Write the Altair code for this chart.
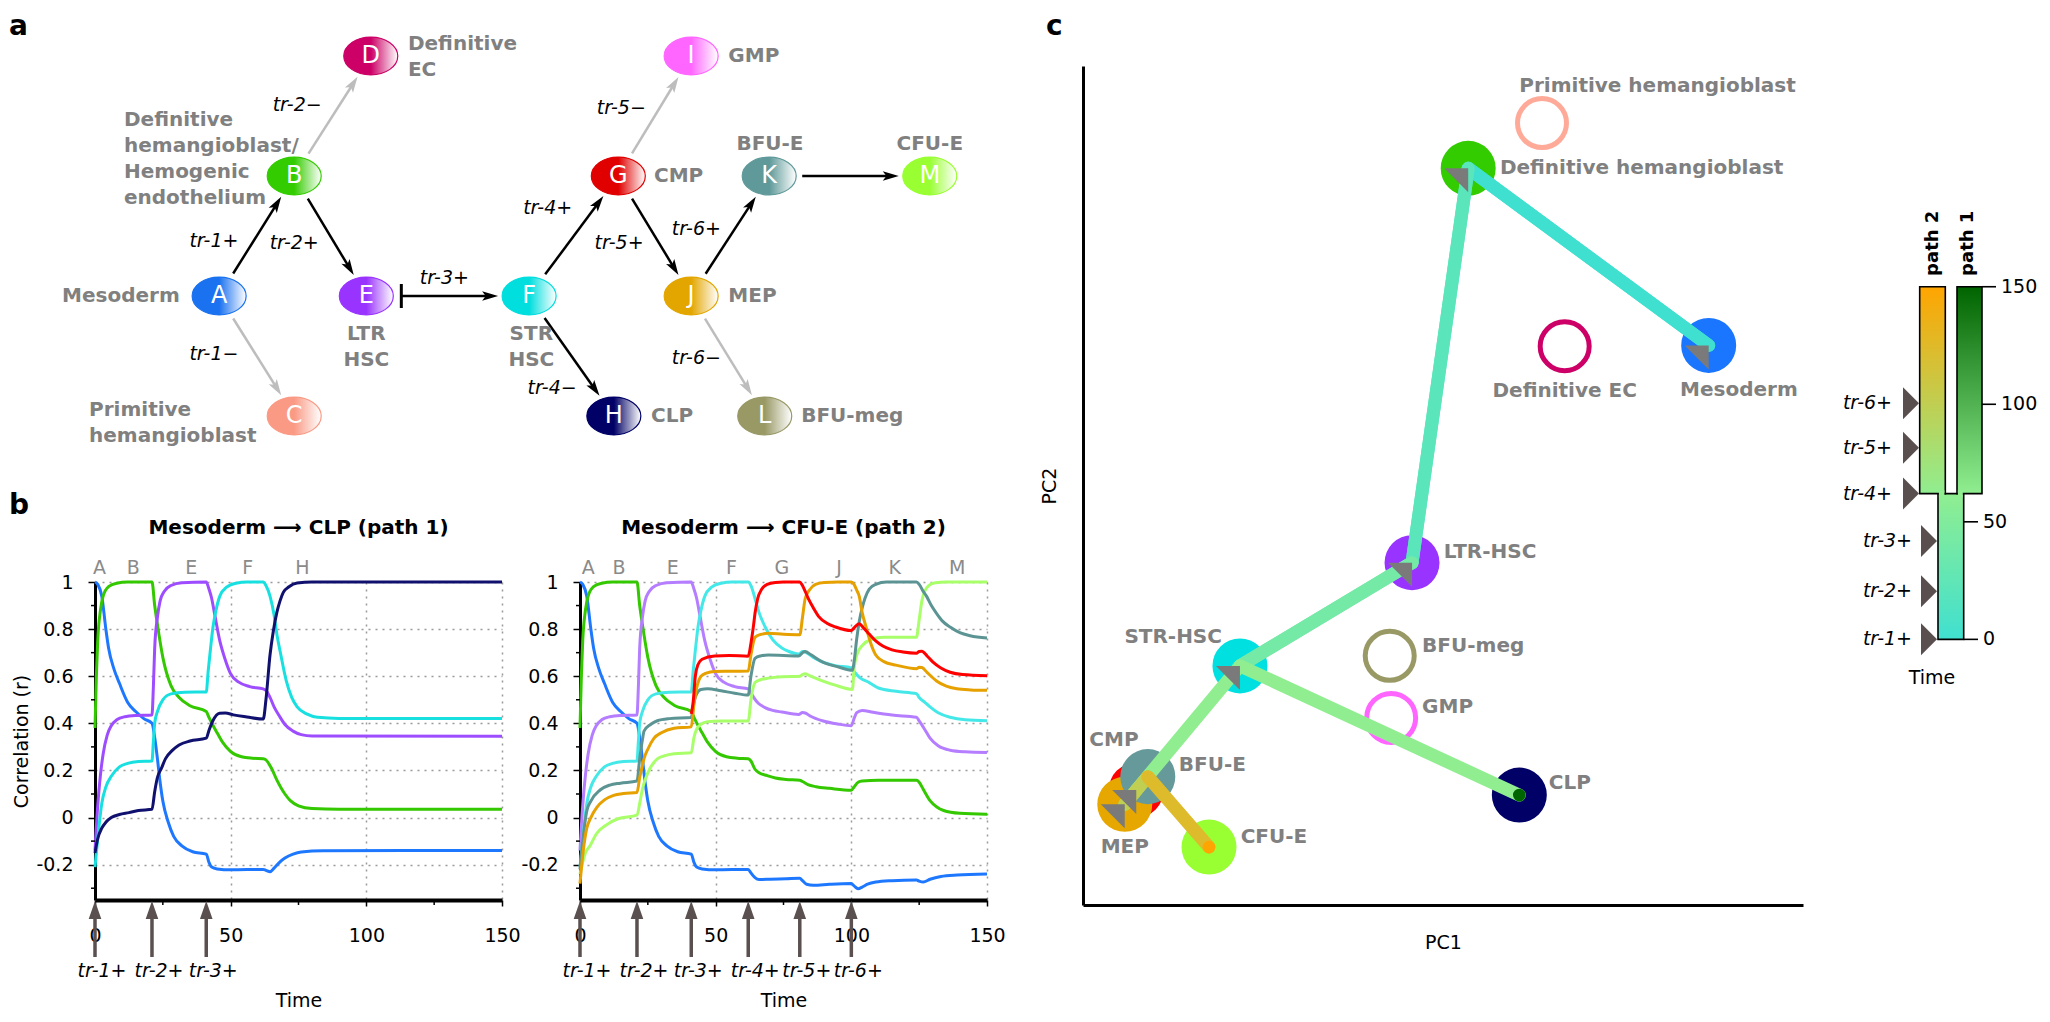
import math
import pandas as pd
import altair as alt

FONT = "DejaVu Sans"
GRAY = "#808080"

# ======================= DATA =======================
# ---------- panel a : lineage network (layout units: column / row) ----------
a_nodes = ["A", "B", "C", "D", "E", "F", "G", "H", "I", "J", "K", "L", "M"]
a_node_col = [1.67, 2.68, 2.68, 3.71, 3.65, 5.84, 7.04, 6.98, 8.02, 8.02, 9.07, 9.01, 11.23]
a_node_row = [2.0, 1.0, 3.0, 0.0, 2.0, 2.0, 1.0, 3.0, 0.0, 2.0, 1.0, 3.0, 1.0]

a_edge_from = ["A", "B", "F", "G", "J", "K", "F", "A", "B", "G", "J"]
a_edge_to = ["B", "E", "G", "J", "K", "M", "H", "C", "D", "I", "L"]
a_edge_kind = ["on", "on", "on", "on", "on", "on", "on", "off", "off", "off", "off"]
a_block_from, a_block_to = "E", "F"

a_label_text = ["Mesoderm", "Definitive\nhemangioblast/\nHemogenic\nendothelium",
                "Definitive\nEC", "Primitive\nhemangioblast", "LTR\nHSC", "STR\nHSC",
                "CMP", "GMP", "MEP", "BFU-E", "CFU-E", "CLP", "BFU-meg"]
a_label_col = [1.14, 0.39, 4.21, -0.08, 3.65, 5.87, 7.52, 8.52, 8.52, 9.08, 11.23, 7.48, 9.50]
a_label_row = [2.0, 0.45, -0.18, 2.87, 2.23, 2.23, 1.0, 0.0, 2.0, 0.73, 0.73, 3.0, 3.0]

a_tr_text = ["tr-1+", "tr-2+", "tr-2\u2212", "tr-1\u2212", "tr-3+", "tr-4+",
             "tr-5\u2212", "tr-5+", "tr-6+", "tr-6\u2212", "tr-4\u2212"]
a_tr_col = [1.60, 2.68, 2.72, 1.60, 4.70, 6.09, 7.08, 7.05, 8.09, 8.09, 6.15]
a_tr_row = [1.54, 1.56, 0.41, 2.48, 1.85, 1.27, 0.43, 1.56, 1.44, 2.52, 2.77]

# ---------- panel b : correlation vs time ----------
b_xticks = [0, 50, 100, 150]
b_xminor = [25, 75, 125]
b_yticks = [-0.2, 0.0, 0.2, 0.4, 0.6, 0.8, 1.0]
b_yminor = [-0.3, -0.1, 0.1, 0.3, 0.5, 0.7, 0.9]

p1_A_early = [(0, 1.0), (1, 0.99), (2.5, 0.94), (4, 0.8), (5, 0.72), (7, 0.63), (9, 0.57), (12, 0.49),
              (15, 0.45), (18, 0.42), (21, 0.4), (22, 0.34), (23, 0.25), (24, 0.15), (25, 0.07),
              (27, -0.02), (29, -0.08), (32, -0.12), (36, -0.145), (41, -0.155), (42, -0.19),
              (43, -0.21), (45, -0.218), (50, -0.222), (62, -0.22)]
p1_A_late = [(63, -0.224), (64.5, -0.23), (66, -0.215), (68, -0.19), (70, -0.172), (73, -0.155),
             (76, -0.146), (84, -0.141), (150, -0.14)]
p1_B_early = [(0, 0.38), (0.5, 0.6), (1, 0.75), (2, 0.88), (3, 0.94), (5, 0.98), (8, 0.995), (12, 1.0),
              (21, 1.0), (22, 0.9), (23, 0.82), (25, 0.68), (28, 0.56), (31, 0.51), (35, 0.475),
              (41, 0.45), (42, 0.425), (44, 0.38), (45, 0.36), (47, 0.32), (50, 0.28), (54, 0.258),
              (58, 0.252), (62, 0.25)]
p1_B_late = [(63, 0.245), (65, 0.21), (67, 0.16), (70, 0.1), (72, 0.072), (75, 0.05), (80, 0.038),
             (90, 0.035), (150, 0.035)]
p1_E_early = [(0, -0.14), (1, 0.05), (2, 0.18), (3, 0.27), (4.5, 0.35), (6, 0.39), (8, 0.415),
              (11, 0.428), (15, 0.433), (21, 0.435), (21.5, 0.55), (22, 0.72), (23, 0.85), (24, 0.92),
              (25.5, 0.96), (28, 0.985), (32, 0.997), (41, 1.0), (42, 0.97), (43, 0.93), (44, 0.87),
              (46, 0.75), (48, 0.67), (50, 0.61), (53, 0.575), (57, 0.556), (62, 0.546)]
p1_E_late = [(63, 0.54), (64.5, 0.51), (66, 0.47), (68, 0.43), (70, 0.395), (73, 0.367), (76, 0.352),
             (80, 0.346), (150, 0.345)]
p1_F_early = [(0, -0.21), (1, -0.09), (2.5, 0.06), (4, 0.13), (6, 0.175), (9, 0.215), (12, 0.23),
              (16, 0.238), (21, 0.24), (21.5, 0.32), (22, 0.4), (23, 0.45), (25, 0.5), (28, 0.525),
              (33, 0.532), (41, 0.533), (41.7, 0.62), (42.6, 0.72), (43.5, 0.81), (44.6, 0.88),
              (46, 0.94), (48.5, 0.978), (52, 0.995), (56, 1.0), (62, 1.0)]
p1_F_late = [(63, 0.985), (64.5, 0.94), (66, 0.86), (67, 0.78), (68.5, 0.69), (70.5, 0.58),
             (72.5, 0.51), (74.5, 0.47), (78, 0.44), (82, 0.426), (90, 0.421), (150, 0.42)]
p1_H = [(0, -0.15), (1, -0.09), (2.5, -0.045), (4, -0.02), (6, 0.0), (9, 0.013), (12.5, 0.021),
        (16, 0.03), (21, 0.035), (22, 0.11), (23, 0.17), (24.5, 0.21), (26, 0.25), (28.5, 0.285),
        (31, 0.308), (35, 0.325), (41, 0.337), (42, 0.37), (43.4, 0.41), (45.9, 0.443), (48, 0.444),
        (51, 0.436), (56, 0.427), (62, 0.418), (63, 0.5), (64.5, 0.69), (65.7, 0.79), (67, 0.87),
        (68.2, 0.92), (69.4, 0.956), (71.5, 0.98), (74.5, 0.996), (80, 1.0), (150, 1.0)]

p2_A_late = [(63, -0.235), (64.5, -0.255), (66, -0.263), (70, -0.262), (76, -0.26), (81, -0.258),
             (82, -0.268), (83.5, -0.283), (86, -0.287), (92, -0.283), (100, -0.28), (101, -0.29),
             (102.5, -0.302), (104, -0.295), (106, -0.283), (109, -0.274), (115, -0.268),
             (124, -0.265), (125, -0.27), (126.5, -0.274), (129, -0.262), (133, -0.25),
             (139, -0.244), (150, -0.24)]
p2_B_late = [(63, 0.24), (64.5, 0.205), (66, 0.19), (69, 0.178), (72, 0.168), (76, 0.162), (81, 0.158),
             (82, 0.153), (84, 0.14), (87, 0.131), (92, 0.124), (100, 0.116), (101, 0.13),
             (102.5, 0.15), (104, 0.155), (110, 0.158), (124, 0.158), (125, 0.15), (126.5, 0.12),
             (129, 0.072), (131.5, 0.045), (134, 0.03), (140, 0.018), (150, 0.014)]
p2_E_late = [(63, 0.53), (64, 0.51), (65.7, 0.485), (68, 0.468), (71, 0.455), (74.4, 0.448),
             (80.6, 0.438), (82, 0.446), (83, 0.444), (85, 0.43), (89.3, 0.411), (95, 0.397),
             (100, 0.39), (101, 0.42), (102, 0.445), (104, 0.455), (108, 0.447), (115, 0.435),
             (124, 0.426), (125, 0.41), (127, 0.375), (129, 0.337), (132, 0.305), (136.4, 0.286),
             (142, 0.279), (150, 0.276)]
p2_F_late = [(63, 0.985), (64.5, 0.93), (66, 0.87), (68.2, 0.81), (71, 0.755), (74.4, 0.72),
             (77, 0.705), (80.6, 0.694), (82, 0.705), (83, 0.703), (86, 0.68), (89.3, 0.661),
             (94, 0.645), (100, 0.635), (101, 0.62), (103, 0.595), (106.6, 0.573), (110, 0.55),
             (116.5, 0.536), (124, 0.526), (125, 0.51), (127, 0.49), (129, 0.47), (132, 0.445),
             (136.4, 0.426), (142, 0.415), (150, 0.411)]
p2_G = [(41, 0.44), (41.7, 0.49), (42.5, 0.6), (43.5, 0.65), (45, 0.672), (49.6, 0.686), (55, 0.688),
        (62, 0.685), (63, 0.74), (64, 0.82), (64.5, 0.867), (65.5, 0.93), (67, 0.97), (69, 0.99),
        (72, 0.998), (75, 1.0), (81, 1.0), (82, 0.985), (83, 0.96), (84.3, 0.926), (86, 0.89),
        (88, 0.853), (91, 0.825), (94.2, 0.809), (100, 0.794), (101, 0.805), (102.9, 0.823),
        (104.5, 0.805), (106.6, 0.779), (109, 0.75), (111.6, 0.728), (115, 0.712), (119, 0.703),
        (124, 0.698), (125, 0.705), (126, 0.706), (128, 0.685), (130, 0.661), (133, 0.635),
        (136.4, 0.617), (141, 0.607), (150, 0.602)]
p2_J = [(0, -0.28), (1, -0.16), (2.5, -0.045), (4, 0.0), (6.2, 0.043), (9, 0.075), (12.4, 0.094),
        (16, 0.102), (21, 0.106), (22, 0.17), (23, 0.22), (23.6, 0.25), (25, 0.29), (27.3, 0.337),
        (30, 0.36), (34.7, 0.379), (41, 0.385), (42, 0.48), (43, 0.55), (44.6, 0.6), (46.5, 0.613),
        (49.6, 0.62), (55, 0.621), (62, 0.622), (63, 0.69), (64.5, 0.765), (66.5, 0.777),
        (69.4, 0.782), (75, 0.778), (81, 0.776), (82, 0.85), (83, 0.93), (84.5, 0.965),
        (86.8, 0.99), (90, 0.998), (95, 1.0), (100, 1.0), (101, 0.99), (102, 0.965), (102.9, 0.94),
        (104, 0.87), (105.4, 0.81), (107, 0.745), (109, 0.69), (112, 0.662), (116.5, 0.647),
        (124, 0.632), (125, 0.638), (126, 0.637), (128, 0.615), (131.4, 0.58), (135, 0.558),
        (138.9, 0.547), (144, 0.542), (150, 0.54)]
p2_K = [(0, -0.22), (1, -0.1), (2.5, 0.028), (4, 0.07), (7.4, 0.117), (11, 0.138), (14.9, 0.146),
        (21, 0.155), (22, 0.25), (23, 0.33), (23.6, 0.367), (26, 0.395), (28.5, 0.411), (33, 0.42),
        (41, 0.425), (42, 0.49), (43, 0.525), (44.6, 0.544), (47, 0.547), (52, 0.538), (57, 0.528),
        (62, 0.52), (63, 0.6), (64.5, 0.676), (66.5, 0.686), (69.4, 0.69), (75, 0.688),
        (80.6, 0.686), (82, 0.7), (83, 0.705), (85, 0.692), (89.3, 0.661), (95, 0.64),
        (100.4, 0.625), (101, 0.66), (102, 0.76), (103, 0.838), (104, 0.89), (105, 0.93),
        (106.6, 0.97), (109, 0.99), (113, 1.0), (124, 1.0), (125, 0.99), (126.5, 0.96),
        (127.7, 0.94), (129.5, 0.9), (131.4, 0.867), (133.5, 0.835), (136.4, 0.809), (140, 0.785),
        (143.8, 0.772), (150, 0.762)]
p2_M = [(0, -0.24), (1, -0.19), (2, -0.15), (3.7, -0.12), (6, -0.07), (9.9, -0.03), (14, -0.005),
        (21, 0.01), (22, 0.06), (23, 0.12), (23.6, 0.146), (25, 0.19), (28.5, 0.249), (31, 0.262),
        (34.7, 0.271), (41, 0.275), (42, 0.34), (43, 0.375), (44.6, 0.396), (47, 0.407), (52, 0.41),
        (62, 0.41), (63, 0.5), (64.5, 0.573), (66.5, 0.585), (69.4, 0.592), (75, 0.598), (81, 0.6),
        (82, 0.607), (83, 0.61), (85, 0.6), (89.3, 0.58), (94, 0.562), (100.4, 0.544), (101, 0.63),
        (102, 0.69), (104, 0.73), (107, 0.755), (112, 0.765), (124, 0.765), (125, 0.84),
        (126, 0.92), (127, 0.96), (128.5, 0.985), (131, 0.997), (135, 1.0), (150, 1.0)]

b1_letters = ["A", "B", "E", "F", "H"]
b1_letter_t = [1.7, 14.1, 35.5, 56.3, 76.4]
b2_letters = ["A", "B", "E", "F", "G", "J", "K", "M"]
b2_letter_t = [3.0, 14.4, 34.2, 55.8, 74.4, 95.5, 116.0, 139.0]
b1_tr_t = [0, 21, 41]
b1_tr_lbl = ["tr-1+", "tr-2+", "tr-3+"]
b2_tr_t = [0, 21, 41, 62, 81, 100]
b2_tr_lbl = ["tr-1+", "tr-2+", "tr-3+", "tr-4+", "tr-5+", "tr-6+"]

# ---------- panel c : PCA trajectory ----------
c_node_name = ["Mesoderm", "Definitive hemangioblast", "LTR-HSC", "STR-HSC", "CLP",
               "CMP", "MEP", "BFU-E", "CFU-E"]
c_node_pc1 = [86.9, 53.5, 45.7, 21.8, 60.6, 7.4, 5.8, 9.0, 17.5]
c_node_pc2 = [66.7, 87.8, 40.8, 28.5, 13.1, 13.7, 12.0, 15.3, 6.9]
c_ring_name = ["Primitive hemangioblast", "Definitive EC", "BFU-meg", "GMP"]
c_ring_pc1 = [63.75, 66.9, 42.6, 42.8]
c_ring_pc2 = [93.2, 66.6, 29.7, 22.3]

c_label_text = ["Primitive hemangioblast", "Definitive hemangioblast", "Mesoderm", "Definitive EC",
                "LTR-HSC", "STR-HSC", "BFU-meg", "GMP", "CLP", "CMP", "BFU-E", "MEP", "CFU-E"]
c_label_pc1 = [60.6, 57.9, 91.1, 66.9, 50.1, 19.3, 47.1, 47.1, 64.7, 4.3, 13.3, 5.8, 21.9]
c_label_pc2 = [97.6, 87.8, 61.4, 61.3, 42.1, 31.9, 30.9, 23.6, 14.5, 19.7, 16.7, 6.9, 8.1]

path1_nodes = ["Mesoderm", "Definitive hemangioblast", "LTR-HSC", "STR-HSC", "CLP"]
path1_time = [0, 21, 41, 62, 150]
path2_nodes = ["Mesoderm", "Definitive hemangioblast", "LTR-HSC", "STR-HSC", "CMP", "MEP",
               "BFU-E", "CFU-E"]
path2_time = [0, 21, 41, 62, 81, 100, 124, 150]
tr_nodes = ["Mesoderm", "Definitive hemangioblast", "LTR-HSC", "STR-HSC", "CMP", "MEP"]

# ---------- colour bar (time legend) ----------
leg_tr_label = ["tr-1+", "tr-2+", "tr-3+", "tr-4+", "tr-5+", "tr-6+"]
leg_tr_time = [0, 20.5, 41.8, 62, 81.5, 100.4]
leg_tick_time = [0, 50, 100, 150]
leg_tick_label = ["0", "50", "100", "150"]

# ======================= STYLE =======================
a_node_color = ["#1a72f0", "#33cc00", "#fa9a85", "#cc0066", "#9933ff", "#00dede", "#e00000",
                "#000066", "#ff66ff", "#e3a600", "#5f9999", "#999966", "#99ff33"]
a_label_align = ["right", "left", "left", "left", "center", "center", "left", "left", "left",
                 "center", "center", "left", "left"]
a_label_base = ["middle", "top", "top", "top", "top", "top", "middle", "middle", "middle",
                "middle", "middle", "middle", "middle"]
EDGE_COLOR = {"on": "#000000", "off": "#bdbdbd"}

b1_colors = {"A": "#1e78ff", "B": "#33c800", "E": "#9d4dff", "F": "#18e0e0", "H": "#10106e"}
b2_colors = {"A": "#1e78ff", "B": "#33c800", "E": "#b57dff", "F": "#45e8e8", "M": "#a8ff6a",
             "K": "#5c9494", "J": "#e6a000", "G": "#ff0000"}
ARROW_GRAY = "#5a5050"

c_node_color = ["#1a75ff", "#33cc00", "#9933ff", "#00e0e0", "#000066", "#ff0000", "#e6a800",
                "#669999", "#99ff33"]
c_ring_color = ["#ffaa99", "#cc0066", "#999966", "#ff66ff"]
c_label_align = ["left", "left", "center", "center", "left", "right", "left", "left", "left",
                 "center", "left", "center", "left"]
P1_RANGE = ["#40e0d0", "#90ee90", "#006400"]
P2_RANGE = ["#40e0d0", "#90ee90", "#ffa500"]

ELLIPSE = "M-1,0A1,0.7,0,1,1,1,0A1,0.7,0,1,1,-1,0Z"
HEAD = "M0,0L0.6,2L0,1.55L-0.6,2Z"
HEAD_UP = "M0,0L0.7,2L-0.7,2Z"
TRI_C = "M0,0L-2,0L0,2Z"
TRI_R = "M0,0L-1,-1L-1,1Z"


def anchor(px, py):
    # invisible 1-px marker used to pin the layout extents
    return alt.Chart(pd.DataFrame({"k": [0]})).mark_point(size=1, opacity=0).encode(
        x=alt.value(px), y=alt.value(py))


# ======================= PANEL A =======================
A_W, A_H = 892, 390
A_XDOM = [0, 12]
A_YDOM = [0.0833, 3.3333]
KX = A_W / (A_XDOM[1] - A_XDOM[0])
KY = A_H / (A_YDOM[1] - A_YDOM[0])
RX, RY = 27, 19


def AX(f):
    return alt.X(f, type="quantitative", axis=None,
                 scale=alt.Scale(domain=A_XDOM, nice=False, zero=False))


def AY(f):
    return alt.Y(f, type="quantitative", axis=None,
                 scale=alt.Scale(domain=A_YDOM, nice=False, zero=False, reverse=True))


pos = {n: (c, r) for n, c, r in zip(a_nodes, a_node_col, a_node_row)}
edge_rows = []
for s, d, k in zip(a_edge_from, a_edge_to, a_edge_kind):
    (c0, r0), (c1, r1) = pos[s], pos[d]
    dx, dy = (c1 - c0) * KX, (r1 - r0) * KY
    L = math.hypot(dx, dy)
    ux, uy = dx / L, dy / L
    rad = RX * RY / math.sqrt((RY * ux) ** 2 + (RX * uy) ** 2)
    tipx, tipy = c1 - ux * (rad + 4) / KX, r1 - uy * (rad + 4) / KY
    edge_rows.append(dict(
        x=c0 + ux * (rad + 6) / KX, y=r0 + uy * (rad + 6) / KY,
        x2=tipx - ux * 8 / KX, y2=tipy - uy * 8 / KY,
        hx=tipx, hy=tipy, ang=math.degrees(math.atan2(ux, -uy)) % 360,
        col=EDGE_COLOR[k]))
(ce, re_), (cf, rf) = pos[a_block_from], pos[a_block_to]
bar_x = ce + (RX + 8) / KX
edge_rows.append(dict(x=bar_x, y=re_, x2=cf - (RX + 12) / KX, y2=rf,
                      hx=cf - (RX + 4) / KX, hy=rf, ang=90.0, col="#000000"))
edges = pd.DataFrame(edge_rows)
tee = pd.DataFrame({"x": [bar_x], "y": [re_ - 12 / KY], "y2": [re_ + 12 / KY]})

a_layers = [anchor(-86, -57)]
a_layers.append(alt.Chart(pd.DataFrame({"t": ["a"]})).mark_text(
    fontSize=28, fontWeight="bold", align="left", baseline="alphabetic", color="black").encode(
    x=alt.value(-86), y=alt.value(-31), text="t:N"))
a_layers.append(alt.Chart(edges).mark_rule(strokeWidth=2.5).encode(
    x=AX("x"), y=AY("y"), x2=alt.X2("x2"), y2=alt.Y2("y2"),
    color=alt.Color("col:N", scale=None)))
a_layers.append(alt.Chart(tee).mark_rule(strokeWidth=3, color="black").encode(
    x=AX("x"), y=AY("y"), y2=alt.Y2("y2")))
a_layers.append(alt.Chart(edges).mark_point(shape=HEAD, size=256, filled=True, opacity=1).encode(
    x=AX("hx"), y=AY("hy"), angle=alt.Angle("ang:Q", scale=None),
    color=alt.Color("col:N", scale=None)))


def hgrad(c):
    return alt.LinearGradient(
        gradient="linear",
        stops=[alt.GradientStop(color=c, offset=0), alt.GradientStop(color=c, offset=0.5),
               alt.GradientStop(color="#ffffff", offset=1)],
        x1=0, x2=1, y1=0, y2=0)


for n, c, r, col in zip(a_nodes, a_node_col, a_node_row, a_node_color):
    a_layers.append(alt.Chart(pd.DataFrame({"x": [c], "y": [r]})).mark_point(
        shape=ELLIPSE, size=(2 * RX) ** 2, filled=True, fill=hgrad(col), stroke=col,
        strokeWidth=1.2, opacity=1).encode(x=AX("x"), y=AY("y")))
a_layers.append(alt.Chart(pd.DataFrame({"x": a_node_col, "y": a_node_row, "t": a_nodes})).mark_text(
    color="white", fontSize=24, align="center", baseline="middle").encode(
    x=AX("x"), y=AY("y"), text="t:N"))

lab_df = pd.DataFrame({"x": a_label_col, "y": a_label_row, "t": a_label_text,
                       "al": a_label_align, "bl": a_label_base})
for (al, bl), g in lab_df.groupby(["al", "bl"]):
    a_layers.append(alt.Chart(g).mark_text(
        color=GRAY, fontSize=20, fontWeight="bold", align=al, baseline=bl,
        lineBreak="\n", lineHeight=26).encode(x=AX("x"), y=AY("y"), text="t:N"))
a_layers.append(alt.Chart(pd.DataFrame({"x": a_tr_col, "y": a_tr_row, "t": a_tr_text})).mark_text(
    color="black", fontSize=19, fontStyle="italic", align="center", baseline="middle").encode(
    x=AX("x"), y=AY("y"), text="t:N"))

panel_a = alt.layer(*a_layers).properties(width=A_W, height=A_H)

# ======================= PANEL B =======================
B_W, B_H = 407, 318


def make_b(curves, letters, letter_t, tr_t, tr_lbl, title, ytitle, tag, extra=None):
    sx = alt.Scale(domain=[0, 150], nice=False, zero=False)
    sy = alt.Scale(domain=[-0.35, 1.0], nice=False, zero=False)
    axx = alt.Axis(values=b_xticks, tickSize=6, tickWidth=1.5, tickColor="black",
                   domainColor="black", domainWidth=4, labelFontSize=19, labelColor="black",
                   labelPadding=20, labelFlush=False, grid=True, gridColor="#9a9a9a",
                   gridDash=[2, 5], gridWidth=1.5, title="Time", titleFontSize=19,
                   titleFontWeight="normal", titleColor="black", titleY=106,
                   titleBaseline="alphabetic")
    ykw = dict(values=b_yticks, tickSize=7, tickWidth=1.5, tickColor="black",
               domainColor="black", domainWidth=3, labelFontSize=19, labelColor="black",
               labelPadding=15, labelFlush=False, grid=True, gridColor="#9a9a9a",
               gridDash=[2, 5], gridWidth=1.5,
               labelExpr="datum.value < 0 ? '-' + format(-datum.value, '') : format(datum.value, '')")
    if ytitle:
        axy = alt.Axis(title=ytitle, titleX=-74, titleY=B_H / 2, titleAngle=270,
                       titleAlign="center", titleBaseline="middle", titleFontSize=19,
                       titleFontWeight="normal", titleColor="black", **ykw)
    else:
        axy = alt.Axis(title=None, **ykw)

    def X(f):
        return alt.X(f, type="quantitative", scale=sx, axis=axx)

    def Y(f):
        return alt.Y(f, type="quantitative", scale=sy, axis=axy)

    layers = []
    for pts, col in curves:
        df = pd.DataFrame(pts, columns=["t", "v"])
        layers.append(alt.Chart(df).mark_line(color=col, strokeWidth=3, interpolate="monotone").encode(
            x=X("t"), y=Y("v")))
    layers.append(alt.Chart(pd.DataFrame({"v": b_yminor})).mark_rule(color="black", strokeWidth=1.5).encode(
        y=Y("v"), x=alt.value(0), x2=alt.value(-4)))
    layers.append(alt.Chart(pd.DataFrame({"t": b_xminor})).mark_rule(color="black", strokeWidth=1.5).encode(
        x=X("t"), y=alt.value(B_H), y2=alt.value(B_H + 5)))
    layers.append(alt.Chart(pd.DataFrame({"t": letter_t, "lab": letters})).mark_text(
        color="#8a8a8a", fontSize=19, baseline="middle").encode(
        x=X("t"), y=alt.value(-14), text="lab:N"))
    layers.append(alt.Chart(pd.DataFrame({"t": [75], "lab": [title]})).mark_text(
        color="black", fontSize=20, fontWeight="bold", baseline="middle").encode(
        x=X("t"), y=alt.value(-54), text="lab:N"))
    trdf = pd.DataFrame({"t": tr_t, "lab": tr_lbl})
    layers.append(alt.Chart(trdf).mark_rule(color=ARROW_GRAY, strokeWidth=3.5).encode(
        x=X("t"), y=alt.value(B_H + 14), y2=alt.value(B_H + 57)))
    layers.append(alt.Chart(trdf).mark_point(shape=HEAD_UP, size=324, filled=True, opacity=1,
                                             color=ARROW_GRAY).encode(x=X("t"), y=alt.value(B_H + 1)))
    layers.append(alt.Chart(trdf).mark_text(color="black", fontSize=19, fontStyle="italic", dx=7,
                                            baseline="middle").encode(
        x=X("t"), y=alt.value(B_H + 71), text="lab:N"))
    if tag:
        layers.append(alt.Chart(pd.DataFrame({"t": [tag]})).mark_text(
            fontSize=28, fontWeight="bold", align="left", baseline="alphabetic", color="black").encode(
            x=alt.value(-86), y=alt.value(-68), text="t:N"))
    if extra is not None:
        layers.append(extra)
    return alt.layer(*layers).properties(width=B_W, height=B_H)


b1_curves = [(p1_A_early + p1_A_late, b1_colors["A"]), (p1_B_early + p1_B_late, b1_colors["B"]),
             (p1_E_early + p1_E_late, b1_colors["E"]), (p1_F_early + p1_F_late, b1_colors["F"]),
             (p1_H, b1_colors["H"])]
b2_curves = [(p1_A_early + p2_A_late, b2_colors["A"]), (p1_B_early + p2_B_late, b2_colors["B"]),
             (p1_E_early + p2_E_late, b2_colors["E"]), (p1_F_early + p2_F_late, b2_colors["F"]),
             (p2_M, b2_colors["M"]), (p2_K, b2_colors["K"]), (p2_J, b2_colors["J"]),
             (p2_G, b2_colors["G"])]

b1 = make_b(b1_curves, b1_letters, b1_letter_t, b1_tr_t, b1_tr_lbl,
            "Mesoderm \u27f6 CLP (path 1)", "Correlation (r)", "b")
# right-edge anchor of the left column (design x = 1030)
b2 = make_b(b2_curves, b2_letters, b2_letter_t, b2_tr_t, b2_tr_lbl,
            "Mesoderm \u27f6 CFU-E (path 2)", None, None, extra=anchor(451, 0))

# ======================= PANEL C =======================
C_W, C_H = 720, 839
sxc = alt.Scale(domain=[0, 100], nice=False, zero=False)
syc = alt.Scale(domain=[0, 100], nice=False, zero=False)
axxc = alt.Axis(ticks=False, labels=False, grid=False, domainColor="black", domainWidth=3,
                title="PC1", titleFontSize=19, titleFontWeight="normal", titleColor="black",
                titlePadding=28)
axyc = alt.Axis(ticks=False, labels=False, grid=False, domainColor="black", domainWidth=3,
                title="PC2", titleFontSize=19, titleFontWeight="normal", titleColor="black",
                titlePadding=24)


def CX(f):
    return alt.X(f, type="quantitative", scale=sxc, axis=axxc)


def CY(f):
    return alt.Y(f, type="quantitative", scale=syc, axis=axyc)


cpos = {n: (x, y) for n, x, y in zip(c_node_name, c_node_pc1, c_node_pc2)}


def segs(nodes, times):
    return pd.DataFrame([dict(x=cpos[a][0], y=cpos[a][1], x2=cpos[b][0], y2=cpos[b][1], t=t)
                         for a, b, t in zip(nodes[:-1], nodes[1:], times[:-1])])


c_layers = [anchor(-50, -57)]
c_layers.append(alt.Chart(pd.DataFrame({"x": c_ring_pc1, "y": c_ring_pc2, "col": c_ring_color})).mark_point(
    filled=False, strokeWidth=5, size=2401, opacity=1).encode(
    x=CX("x"), y=CY("y"), color=alt.Color("col:N", scale=None)))
c_layers.append(alt.Chart(pd.DataFrame({"x": c_node_pc1, "y": c_node_pc2, "col": c_node_color})).mark_circle(
    size=3025, opacity=1).encode(x=CX("x"), y=CY("y"), color=alt.Color("col:N", scale=None)))
c_layers.append(alt.Chart(segs(path2_nodes, path2_time)).mark_rule(strokeWidth=13, strokeCap="round").encode(
    x=CX("x"), y=CY("y"), x2=alt.X2("x2"), y2=alt.Y2("y2"),
    color=alt.Color("t:Q", legend=None,
                    scale=alt.Scale(domain=[0, 62, 150], range=P2_RANGE, interpolate="rgb"))))
c_layers.append(alt.Chart(segs(path1_nodes, path1_time)).mark_rule(strokeWidth=13, strokeCap="round").encode(
    x=CX("x"), y=CY("y"), x2=alt.X2("x2"), y2=alt.Y2("y2"),
    color=alt.Color("t:Q", legend=None,
                    scale=alt.Scale(domain=[0, 62, 150], range=P1_RANGE, interpolate="rgb"))))
c_layers.append(alt.Chart(pd.DataFrame({"x": [cpos["CLP"][0]], "y": [cpos["CLP"][1]],
                                        "t": [path1_time[-1]]})).mark_circle(size=160, opacity=1).encode(
    x=CX("x"), y=CY("y"),
    color=alt.Color("t:Q", legend=None,
                    scale=alt.Scale(domain=[0, 62, 150], range=P1_RANGE, interpolate="rgb"))))
c_layers.append(alt.Chart(pd.DataFrame({"x": [cpos["CFU-E"][0]], "y": [cpos["CFU-E"][1]],
                                        "t": [path2_time[-1]]})).mark_circle(size=160, opacity=1).encode(
    x=CX("x"), y=CY("y"),
    color=alt.Color("t:Q", legend=None,
                    scale=alt.Scale(domain=[0, 62, 150], range=P2_RANGE, interpolate="rgb"))))
c_layers.append(alt.Chart(pd.DataFrame({"x": [cpos[n][0] for n in tr_nodes],
                                        "y": [cpos[n][1] for n in tr_nodes]})).mark_point(
    shape=TRI_C, size=576, filled=True, color="#7a7a7a", opacity=1).encode(x=CX("x"), y=CY("y")))
clab = pd.DataFrame({"x": c_label_pc1, "y": c_label_pc2, "t": c_label_text, "al": c_label_align})
for al, g in clab.groupby("al"):
    c_layers.append(alt.Chart(g).mark_text(color=GRAY, fontSize=20, fontWeight="bold", align=al,
                                           baseline="middle").encode(x=CX("x"), y=CY("y"), text="t:N"))
c_layers.append(alt.Chart(pd.DataFrame({"t": ["c"]})).mark_text(
    fontSize=28, fontWeight="bold", align="left", baseline="alphabetic", color="black").encode(
    x=alt.value(-37), y=alt.value(-31), text="t:N"))
panel_c = alt.layer(*c_layers).resolve_scale(color="independent").properties(width=C_W, height=C_H)

# ======================= TIME COLOUR BAR =======================
L_W = 120
LXS = alt.Scale(domain=[0, L_W], nice=False, zero=False)
LYS = alt.Scale(domain=[-113.0, 243.9], nice=False, zero=False)


def LX(f):
    return alt.X(f, type="quantitative", scale=LXS, axis=None)


def LY(f):
    return alt.Y(f, type="quantitative", scale=LYS, axis=None)


def vgrad(c0, c1):
    return alt.LinearGradient(gradient="linear",
                              stops=[alt.GradientStop(color=c0, offset=0),
                                     alt.GradientStop(color=c1, offset=1)],
                              x1=0, x2=0, y1=1, y2=0)


bars = [(65, 90.7, 0, 62, P1_RANGE[0], P1_RANGE[1]),
        (46.7, 72.3, 62, 150, P2_RANGE[1], P2_RANGE[2]),
        (84, 109, 62, 150, P1_RANGE[1], P1_RANGE[2])]
l_layers = []
for x0, x1, t0, t1, c0, c1 in bars:
    l_layers.append(alt.Chart(pd.DataFrame({"x0": [x0], "x1": [x1], "t0": [t0], "t1": [t1]})).mark_rect(
        fill=vgrad(c0, c1), stroke="black", strokeWidth=1.6).encode(
        x=LX("x0"), x2=alt.X2("x1"), y=LY("t0"), y2=alt.Y2("t1")))
cover = pd.DataFrame({"x0": [65.9, 84.9], "x1": [71.4, 89.8], "t0": [60.6, 60.6], "t1": [63.4, 63.4]})
l_layers.append(alt.Chart(cover).mark_rect(fill=P1_RANGE[1], strokeWidth=0).encode(
    x=LX("x0"), x2=alt.X2("x1"), y=LY("t0"), y2=alt.Y2("t1")))
tri = pd.DataFrame({"t": leg_tr_time, "lab": leg_tr_label,
                    "tip": [64, 64, 64, 46, 46, 46], "lx": [39, 39, 39, 19, 19, 19]})
l_layers.append(alt.Chart(tri).mark_point(shape=TRI_R, size=1024, filled=True, color="#5a4f4f",
                                          opacity=1).encode(x=LX("tip"), y=LY("t")))
l_layers.append(alt.Chart(tri).mark_text(color="black", fontSize=19, fontStyle="italic", align="right",
                                         baseline="middle").encode(x=LX("lx"), y=LY("t"), text="lab:N"))
ticks = pd.DataFrame({"t": leg_tick_time, "lab": leg_tick_label,
                      "x0": [90.7, 90.7, 109, 109], "x1": [105, 105, 123, 123], "lx": [110, 110, 128, 128]})
l_layers.append(alt.Chart(ticks).mark_rule(color="black", strokeWidth=1.6).encode(
    x=LX("x0"), x2=alt.X2("x1"), y=LY("t")))
l_layers.append(alt.Chart(ticks).mark_text(color="black", fontSize=19, align="left",
                                           baseline="middle").encode(x=LX("lx"), y=LY("t"), text="lab:N"))
l_layers.append(alt.Chart(pd.DataFrame({"x": [59.5, 95], "t": [168.5, 168.5], "lab": ["path 2", "path 1"]})).mark_text(
    color="black", fontSize=18, fontWeight="bold", angle=270, align="center", baseline="middle").encode(
    x=LX("x"), y=LY("t"), text="lab:N"))
l_layers.append(alt.Chart(pd.DataFrame({"x": [59], "t": [-16.5], "lab": ["Time"]})).mark_text(
    color="black", fontSize=19, align="center", baseline="middle").encode(
    x=LX("x"), y=LY("t"), text="lab:N"))
legend_bar = alt.layer(*l_layers).properties(width=L_W, height=C_H)

# ======================= ASSEMBLY =======================
b_row = alt.hconcat(b1, b2, spacing=78, bounds="flush")
left_col = alt.vconcat(panel_a, b_row, spacing=126, bounds="flush")
right_col = alt.hconcat(panel_c, legend_bar, spacing=70, bounds="flush")
chart = alt.hconcat(left_col, right_col, spacing=0, bounds="full").properties(
    padding=0, background="white").configure(font=FONT).configure_view(stroke=None)

chart.save("out.html", embed_options={"renderer": "svg", "actions": False})
